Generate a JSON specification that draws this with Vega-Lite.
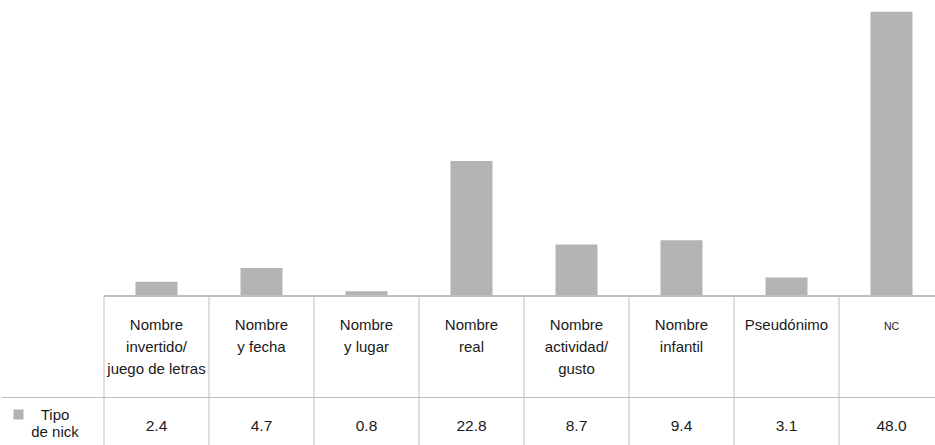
{
  "$schema": "https://vega.github.io/schema/vega-lite/v6.json",
  "width": 832,
  "height": 445,
  "padding": 0,
  "background": "white",
  "config": {"view": {"stroke": null}, "font": "Liberation Sans"},
  "data": {
    "values": [
      {"tipo": "Nombre invertido/ juego de letras", "etiqueta": "Nombre\ninvertido/\njuego de letras", "valor": 2.4, "serie": "Tipo de nick"},
      {"tipo": "Nombre y fecha", "etiqueta": "Nombre\ny fecha", "valor": 4.7, "serie": "Tipo de nick"},
      {"tipo": "Nombre y lugar", "etiqueta": "Nombre\ny lugar", "valor": 0.8, "serie": "Tipo de nick"},
      {"tipo": "Nombre real", "etiqueta": "Nombre\nreal", "valor": 22.8, "serie": "Tipo de nick"},
      {"tipo": "Nombre actividad/ gusto", "etiqueta": "Nombre\nactividad/\ngusto", "valor": 8.7, "serie": "Tipo de nick"},
      {"tipo": "Nombre infantil", "etiqueta": "Nombre\ninfantil", "valor": 9.4, "serie": "Tipo de nick"},
      {"tipo": "Pseudónimo", "etiqueta": "Pseudónimo", "valor": 3.1, "serie": "Tipo de nick"},
      {"tipo": "NC", "etiqueta": "NC", "valor": 48.0, "serie": "Tipo de nick"}
    ]
  },
  "encoding": {
    "x": {
      "field": "tipo",
      "type": "nominal",
      "sort": null,
      "scale": {"range": [0, 840], "paddingInner": 0, "paddingOuter": 0},
      "axis": null
    }
  },
  "layer": [
    {
      "mark": {"type": "bar", "width": {"band": 0.4}},
      "encoding": {
        "y": {
          "field": "valor",
          "type": "quantitative",
          "scale": {"domain": [-25.2, 50], "nice": false, "zero": false},
          "axis": {
            "values": [-17.08],
            "grid": true,
            "gridColor": "#bfbfbf",
            "gridWidth": 1,
            "ticks": true,
            "tickSize": 103,
            "tickColor": "#bfbfbf",
            "tickWidth": 1,
            "labels": false,
            "domain": false,
            "title": null
          }
        },
        "y2": {"datum": 0},
        "color": {
          "field": "serie",
          "type": "nominal",
          "scale": {"range": ["#b3b3b3"]},
          "legend": {
            "orient": "none",
            "legendX": -93,
            "legendY": 407,
            "title": null,
            "padding": 0,
            "symbolType": "square",
            "symbolSize": 100,
            "symbolStrokeWidth": 0,
            "labelFont": "Liberation Sans",
            "labelFontSize": 15,
            "labelColor": "#1a1a1a",
            "labelAlign": "center",
            "labelOffset": 29,
            "labelExpr": "[slice(datum.label, 0, 4), slice(datum.label, 5)]",
            "encode": {
              "symbols": {"update": {"fill": {"value": "#8c8c8c"}, "stroke": {"value": "transparent"}}},
              "labels": {"update": {"lineHeight": {"value": 17}}}
            }
          }
        }
      }
    },
    {
      "mark": {"type": "rule", "color": "#bfbfbf", "strokeWidth": 1.3},
      "encoding": {"x": null, "y": {"datum": 0}}
    },
    {
      "mark": {"type": "rule", "color": "#bfbfbf", "strokeWidth": 1},
      "encoding": {
        "x": {"field": "tipo", "type": "nominal", "sort": null, "bandPosition": 0},
        "y": {"datum": 0},
        "y2": {"datum": -25.2}
      }
    },
    {
      "mark": {
        "type": "text",
        "align": "center",
        "baseline": "alphabetic",
        "lineBreak": "\n",
        "lineHeight": 22,
        "color": "#1a1a1a",
        "font": "Liberation Sans"
      },
      "encoding": {
        "y": {"datum": -5.76},
        "text": {"field": "etiqueta"},
        "size": {"condition": {"test": "datum.tipo === 'NC'", "value": 10.5}, "value": 15}
      }
    },
    {
      "mark": {
        "type": "text",
        "align": "center",
        "baseline": "alphabetic",
        "fontSize": 15.5,
        "color": "#1a1a1a",
        "font": "Liberation Sans"
      },
      "encoding": {
        "y": {"datum": -22.9},
        "text": {"field": "valor", "type": "quantitative", "format": ".1f"}
      }
    }
  ]
}
